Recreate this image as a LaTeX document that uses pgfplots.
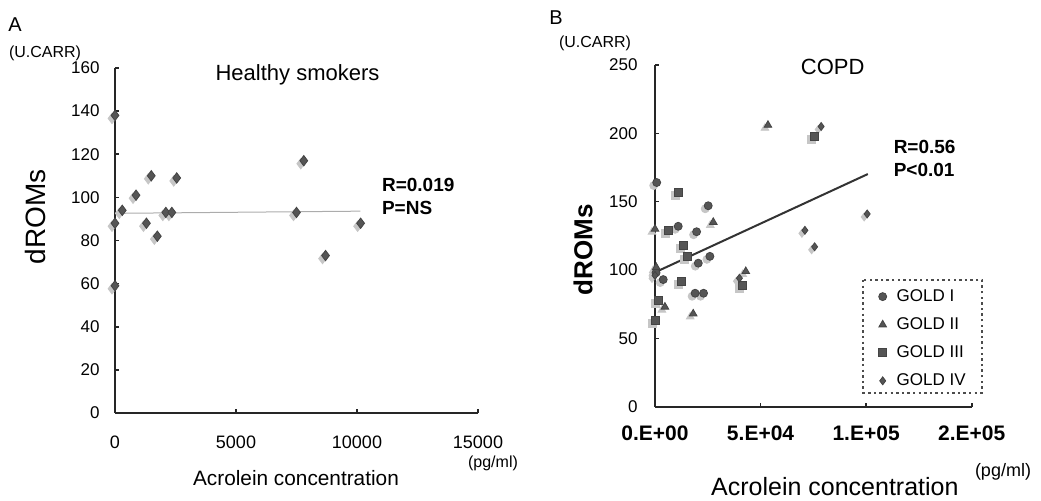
\documentclass[border=0pt]{standalone}
\usepackage{fontspec}
\setmainfont{Liberation Sans}
\usepackage{pgfplots}
\usepackage{pgfplotstable}
\pgfplotsset{compat=1.18}

\definecolor{mk}{HTML}{555555}
\definecolor{shd}{HTML}{C6C6C6}

% panel A: healthy smokers
\pgfplotstableread{
x y
0 138
0 88
0 59
300 94
870 101
1500 110
1300 88
1750 82
2100 93
2350 93
2550 109
7500 93
7800 117
8700 73
10150 88
}\smokers

% panel B: COPD, by GOLD stage
\pgfplotstableread{
x y
800 164
11000 132
19700 128
25200 147
20500 105
26000 110
3900 93
19000 83
23000 83
500 98
}\goldI
\pgfplotstableread{
x y
0 130
53500 206
27600 135
4700 73
18100 68
43000 99
600 102
}\goldII
\pgfplotstableread{
x y
11000 157
6300 129
13400 118
15300 110
12600 92
1600 78
0 63
75600 198
41500 89
}\goldIII
\pgfplotstableread{
x y
78700 205
71000 129
75600 117
100500 141
40000 94
0 96
}\goldIV

\pgfplotsset{panel/.style={scale only axis, axis lines*=left,
  axis line style={-, black!85, line width=0.9pt}, tick align=inside, major tick length=2pt,
  tick style={black!85, line width=0.8pt}, /pgf/number format/assume math mode=true,
  /pgf/number format/1000 sep={}, scaled ticks=false, clip=false,
  yticklabel style={anchor=east, inner sep=0pt}, xticklabel style={anchor=center, inner sep=0pt}},
  shadow/.style={only marks, forget plot, color=shd, mark options={solid, fill=shd, draw=shd, xshift=-1.5pt, yshift=-1.5pt}},
  dots/.style={only marks, color=mk, mark options={solid, fill=mk, draw=mk!80!black}}}

\begin{document}
\begin{tikzpicture}
\useasboundingbox (0,0) rectangle (520.5pt,250.5pt);

\begin{axis}[panel, at={(57.5pt,44pt)}, anchor=south west, width=181.5pt, height=172.5pt,
  xmin=0, xmax=15000, ymin=0, ymax=160, xtick={0,5000,10000,15000}, ytick={0,20,...,160},
  yticklabel style={xshift=-7.5pt, font=\fontsize{8.5}{10}\selectfont},
  xticklabel style={yshift=-14.5pt, font=\fontsize{9}{11}\selectfont},
  xlabel={Acrolein concentration}, ylabel={dROMs},
  xlabel style={at={(axis description cs:0.4986,-0.188)}, anchor=center, font=\fontsize{10.4}{13}\selectfont},
  ylabel style={at={(axis description cs:-0.2204,0.568)}, anchor=center, font=\fontsize{14}{16}\selectfont}]
\addplot[shadow, mark=diamond*, mark size=2.6pt] table {\smokers};
\addplot[dots, mark=diamond*, mark size=2.6pt] table {\smokers};
\addplot[no marks, gray!65, line width=0.5pt] coordinates {(100,92.6) (10140,93.6)};
\end{axis}

\begin{axis}[panel, at={(327.5pt,47.15pt)}, anchor=south west, width=158.35pt, height=170.85pt,
  xmin=0, xmax=150000, ymin=0, ymax=250, xtick={0,50000,100000,150000},
  xticklabels={0.E+00,5.E+04,1.E+05,2.E+05}, ytick={0,50,...,250},
  yticklabel style={xshift=-8.5pt, font=\fontsize{8.5}{10}\selectfont},
  xticklabel style={yshift=-13.2pt, font=\fontsize{10.5}{12}\selectfont\bfseries},
  xlabel={Acrolein concentration}, ylabel={dROMs},
  xlabel style={at={(axis description cs:0.568,-0.235)}, anchor=center, font=\fontsize{12.5}{15}\selectfont},
  ylabel style={at={(axis description cs:-0.2273,0.4586)}, anchor=center, font=\fontsize{13}{15}\selectfont\bfseries},
  legend style={draw=none, fill=none, at={(axis description cs:0.6577,0.3708)}, anchor=north west,
    inner xsep=7.5pt, inner ysep=4.4pt, row sep=6.6pt, column sep=5pt, nodes={inner sep=0pt},
    font=\fontsize{8.5}{10}\selectfont}, legend cell align=left]
\addplot[shadow, mark=*, mark size=2pt] table {\goldI};
\addplot[shadow, mark=triangle*, mark size=2.2pt] table {\goldII};
\addplot[shadow, mark=square*, mark size=2pt] table {\goldIII};
\addplot[shadow, mark=diamond*, mark size=2pt] table {\goldIV};
\addplot[dots, mark=*, mark size=2pt] table {\goldI};
\addlegendentry{GOLD I}
\addplot[dots, mark=triangle*, mark size=2.2pt] table {\goldII};
\addlegendentry{GOLD II}
\addplot[dots, mark=square*, mark size=2pt] table {\goldIII};
\addlegendentry{GOLD III}
\addplot[dots, mark=diamond*, mark size=2pt] table {\goldIV};
\addlegendentry{GOLD IV}
\addplot[no marks, black!80, line width=1pt, forget plot] coordinates {(1000,99) (100800,170.2)};
\end{axis}

% legend frame
\draw[gray!60!black, line width=1.1pt, dash pattern=on 1.2pt off 1.6pt] (431.65pt,110.5pt) rectangle (490.85pt,54.15pt);

% panel texts
\node[font=\fontsize{10}{12}\selectfont] at (7.5pt,238pt) {A};
\node[font=\fontsize{8}{10}\selectfont] at (22.5pt,224pt) {(U.CARR)};
\node[font=\fontsize{11}{13}\selectfont] at (148.75pt,213pt) {Healthy smokers};
\node[anchor=west, font=\fontsize{9.5}{11}\selectfont\bfseries] at (187.5pt,158pt) {R=0.019};
\node[anchor=west, font=\fontsize{9.5}{11}\selectfont\bfseries] at (187.5pt,146.5pt) {P=NS};
\node[font=\fontsize{8}{10}\selectfont] at (246.5pt,19pt) {(pg/ml)};

\node[font=\fontsize{10}{12}\selectfont] at (278pt,241.5pt) {B};
\node[font=\fontsize{8}{10}\selectfont] at (297.5pt,229pt) {(U.CARR)};
\node[font=\fontsize{11}{13}\selectfont] at (416.35pt,217.15pt) {COPD};
\node[anchor=west, font=\fontsize{9.5}{11}\selectfont\bfseries] at (443.35pt,177.15pt) {R=0.56};
\node[anchor=west, font=\fontsize{9.5}{11}\selectfont\bfseries] at (443.35pt,165.5pt) {P<0.01};
\node[font=\fontsize{9}{11}\selectfont] at (501.5pt,14.65pt) {(pg/ml)};
\end{tikzpicture}
\end{document}
